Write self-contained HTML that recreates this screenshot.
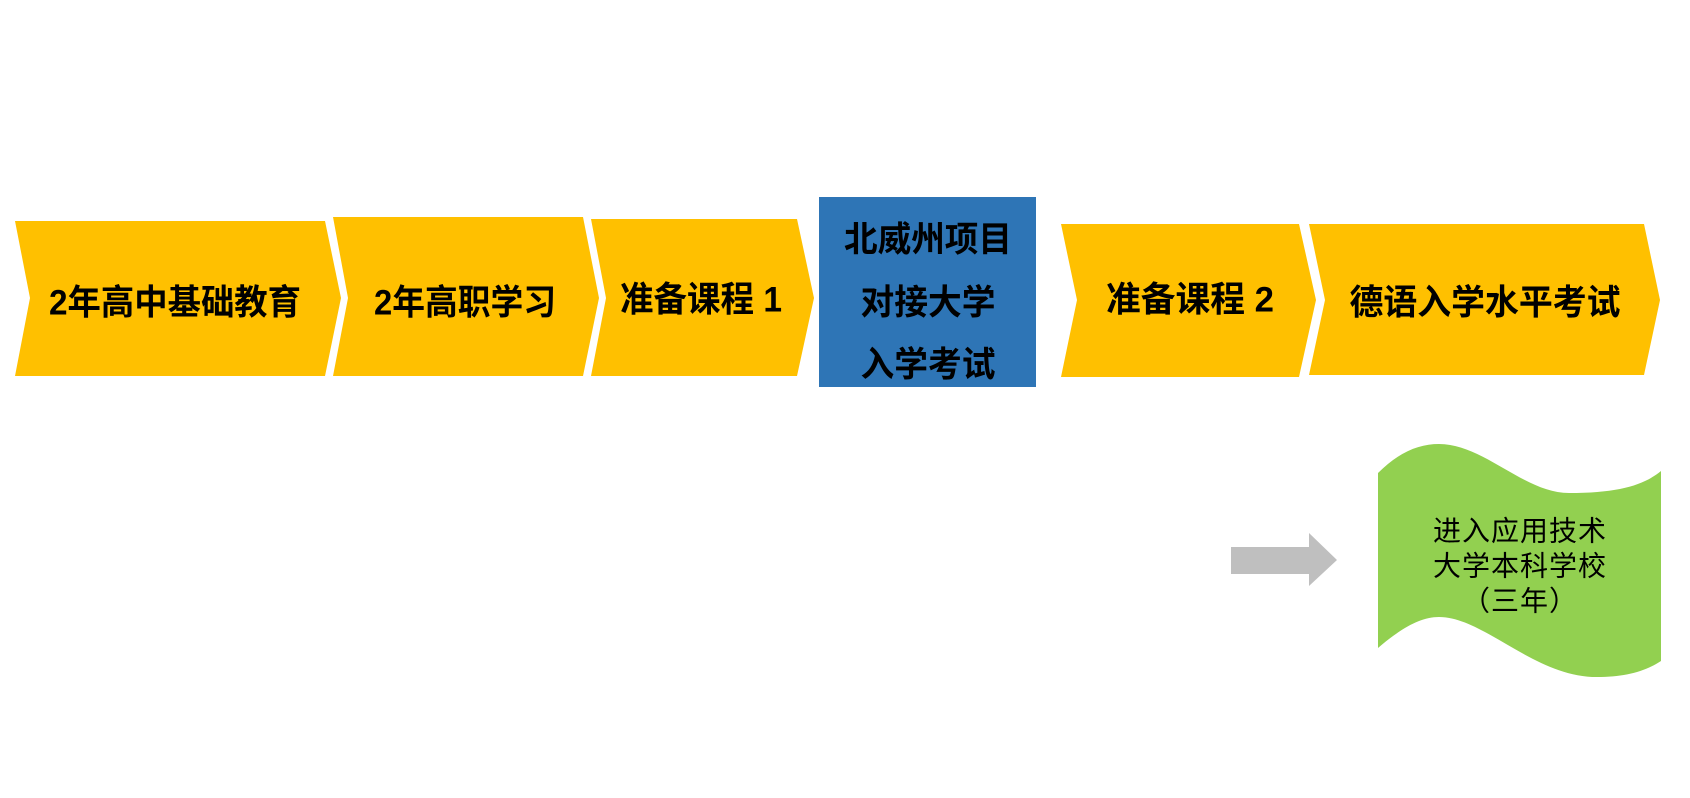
<!DOCTYPE html>
<html><head><meta charset="utf-8"><style>
html,body{margin:0;padding:0;background:#fff;}
svg{display:block;}
text{font-family:"Liberation Sans","Noto Sans CJK SC",sans-serif;}
.b{font-weight:bold;font-size:35px;fill:#000;}
.g{font-size:28px;letter-spacing:1px;fill:#000;}
</style></head><body>
<svg width="1690" height="798" viewBox="0 0 1690 798" xmlns="http://www.w3.org/2000/svg">
<g fill="#FFC000">
<polygon points="15,221 325,221 341,298 325,376 15,376 30,298"/>
<polygon points="333,217 583,217 599,298 583,376 333,376 348,298"/>
<polygon points="591,219 797,219 814,298 797,376 591,376 606,298"/>
<polygon points="1061,224 1299,224 1316,300 1299,377 1061,377 1077,300"/>
<polygon points="1309,224 1644,224 1660,300 1644,375 1309,375 1325,300"/>
</g>
<rect x="819" y="197" width="217" height="190" fill="#2E75B6"/>
<polygon points="1231,547 1309,547 1309,533 1337,560 1309,586 1309,574 1231,574" fill="#BFBFBF"/>
<path d="M1378,473 C1399,452 1419,444 1439,444 C1484,444 1524,493 1569,493 C1619,493 1644,485 1661,471 L1661,661 C1644,672 1624,677 1597,677 C1534,677 1484,617 1439,617 C1419,617 1399,630 1378,648 Z" fill="#92D050"/>
<g class="b" text-anchor="middle" dominant-baseline="central" lengthAdjust="spacingAndGlyphs">
<text x="175" y="303" textLength="252" lengthAdjust="spacingAndGlyphs">2年高中基础教育</text>
<text x="465" y="303" textLength="182" lengthAdjust="spacingAndGlyphs">2年高职学习</text>
<text x="701" y="300" textLength="162" lengthAdjust="spacingAndGlyphs">准备课程 1</text>
<text x="928" y="240" textLength="168" lengthAdjust="spacingAndGlyphs">北威州项目</text>
<text x="928" y="303" textLength="135" lengthAdjust="spacingAndGlyphs">对接大学</text>
<text x="928" y="365" textLength="135" lengthAdjust="spacingAndGlyphs">入学考试</text>
<text x="1190" y="300" textLength="168" lengthAdjust="spacingAndGlyphs">准备课程 2</text>
<text x="1485" y="303" textLength="271" lengthAdjust="spacingAndGlyphs">德语入学水平考试</text>
</g>
<g class="g" text-anchor="middle" dominant-baseline="central">
<text x="1520" y="531">进入应用技术</text>
<text x="1520" y="566">大学本科学校</text>
<text x="1520" y="601">（三年）</text>
</g>
</svg>
</body></html>
